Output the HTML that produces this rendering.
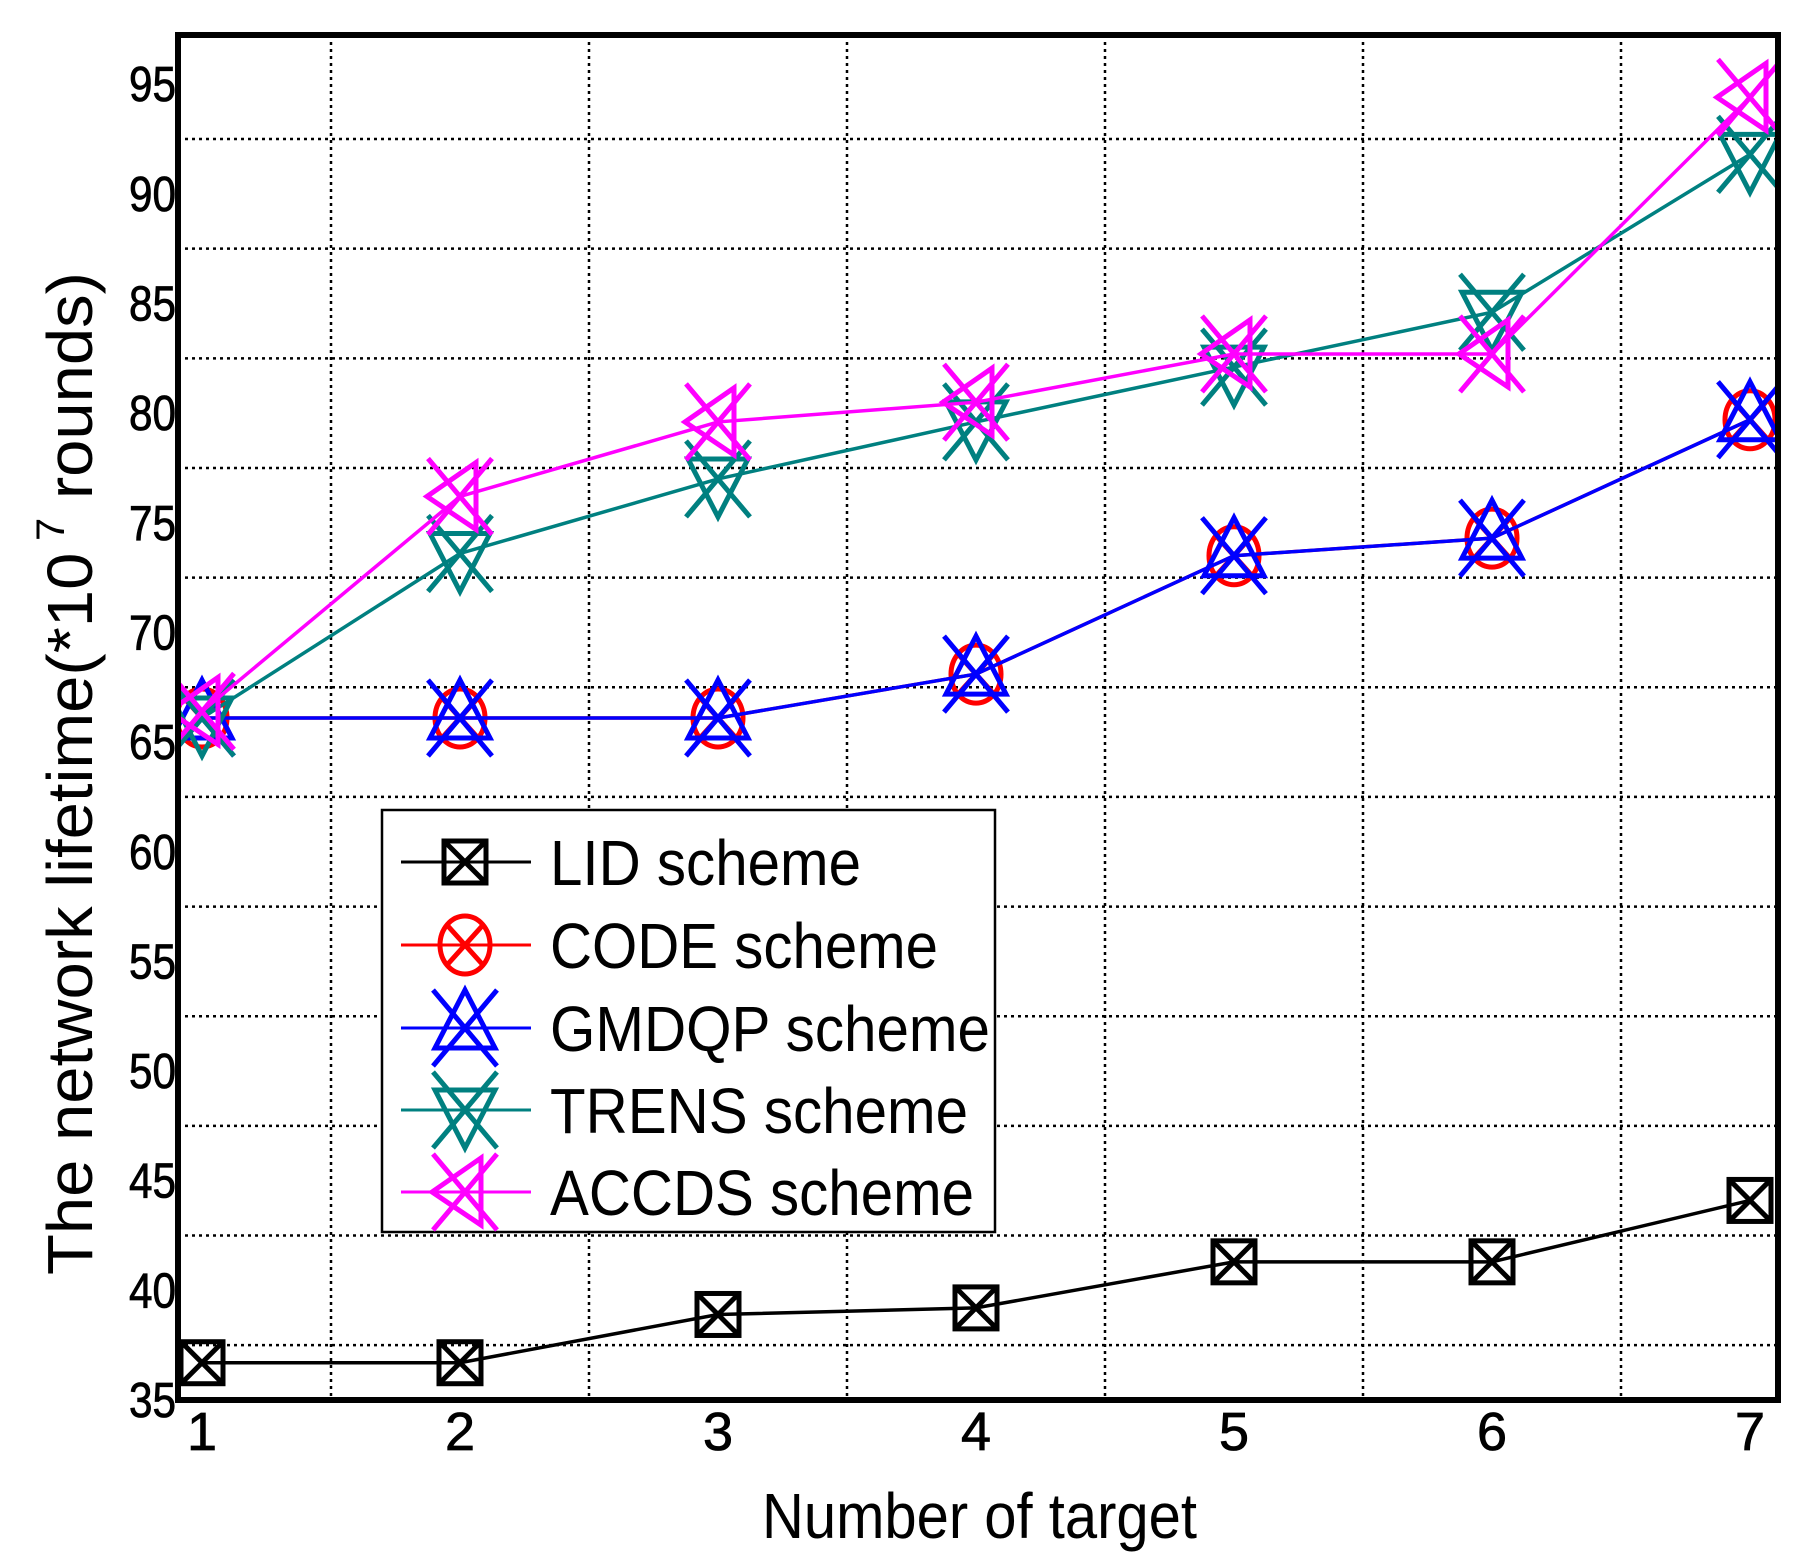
<!DOCTYPE html>
<html><head><meta charset="utf-8"><style>html,body{margin:0;padding:0;background:#fff}svg{display:block}</style></head>
<body>
<svg id="chart" width="1811" height="1566" viewBox="0 0 1811 1566" xmlns="http://www.w3.org/2000/svg" font-family="'Liberation Sans', sans-serif">
<defs><clipPath id="plotclip"><rect x="178" y="32" width="1600" height="1368"/></clipPath></defs>
<g id="grid"></g>
<g id="series" clip-path="url(#plotclip)"></g>
<rect x="178" y="35" width="1600" height="1365" fill="none" stroke="#000" stroke-width="6"/>
<g id="ticks"></g>
<text x="762" y="1538" font-size="64" textLength="435" lengthAdjust="spacingAndGlyphs">Number of target</text>
<text transform="translate(92,1275) rotate(-90)" font-size="64" textLength="1003" lengthAdjust="spacingAndGlyphs">The network lifetime(*10<tspan font-size="40" dy="-28"> 7</tspan><tspan dy="28"> rounds)</tspan></text>
<g id="legend"></g>
</svg>
<script>
const xValues = [1,2,3,4,5,6,7];
const lidValues = [36.7,36.7,38.9,39.2,41.3,41.3,44.1];
const codeValues = [66.1,66.1,66.1,68.1,73.5,74.3,79.7];
const gmdqpValues = [66.1,66.1,66.1,68.1,73.5,74.3,79.7];
const trensValues = [66.1,73.6,77.0,79.6,82.1,84.6,91.8];
const accdsValues = [66.4,76.2,79.6,80.5,82.7,82.7,94.4];
const yTicks = [35,40,45,50,55,60,65,70,75,80,85,90,95];
const xTicks = [1,2,3,4,5,6,7];
const yGrid = [37.5,42.5,47.5,52.5,57.5,62.5,67.5,72.5,77.5,82.5,87.5,92.5];
const xGrid = [1.5,2.5,3.5,4.5,5.5,6.5];
const seriesNames = ['LID scheme','CODE scheme','GMDQP scheme','TRENS scheme','ACCDS scheme'];

const NS='http://www.w3.org/2000/svg';
const X=v=>202+(v-1)*258;
const Y=v=>1400-(v-35)*21.93;
function mk(tag,attrs,parent){const e=document.createElementNS(NS,tag);for(const k in attrs)e.setAttribute(k,attrs[k]);parent.appendChild(e);return e;}

const grid=document.getElementById('grid');
yGrid.forEach(v=>{const l=mk('line',{x1:178,x2:1778,y1:Y(v),y2:Y(v),stroke:'#000','stroke-width':2.5,'stroke-dasharray':'3,4'},grid);

});
xGrid.forEach(v=>{const l=mk('line',{x1:X(v),x2:X(v),y1:35,y2:1400,stroke:'#000','stroke-width':2.5,'stroke-dasharray':'3,4'},grid);

});

const ticks=document.getElementById('ticks');
yTicks.forEach(v=>{const t=mk('text',{x:176,y:Y(v)+17,'font-size':49,'text-anchor':'end',textLength:47,lengthAdjust:'spacingAndGlyphs',stroke:'#000','stroke-width':0.8},ticks);t.textContent=v;

});
xTicks.forEach(v=>{const t=mk('text',{x:X(v),y:1450,'font-size':54,'text-anchor':'middle',stroke:'#000','stroke-width':0.8},ticks);t.textContent=v;

});

function marker(type,cx,cy,color,g){
  const sw=5;const a={fill:'none',stroke:color,'stroke-width':sw};
  if(type==='square'){mk('rect',Object.assign({x:cx-21,y:cy-21,width:42,height:42},a),g);
    mk('path',Object.assign({d:`M${cx-21},${cy-21}L${cx+21},${cy+21}M${cx+21},${cy-21}L${cx-21},${cy+21}`},a),g);return;}
  if(type==='circle'){mk('ellipse',Object.assign({cx:cx,cy:cy,rx:25,ry:29},a),g);
    mk('path',Object.assign({d:`M${cx-18},${cy-20}L${cx+18},${cy+20}M${cx+18},${cy-20}L${cx-18},${cy+20}`},a),g);return;}
  const xp=`M${cx-32},${cy-38}L${cx+32},${cy+38}M${cx+32},${cy-38}L${cx-32},${cy+38}`;
  let tri='';
  if(type==='up')tri=`M${cx},${cy-38}L${cx+30},${cy+20}L${cx-30},${cy+20}Z`;
  if(type==='down')tri=`M${cx},${cy+38}L${cx+30},${cy-20}L${cx-30},${cy-20}Z`;
  if(type==='left')tri=`M${cx-33},${cy}L${cx+16},${cy-34}L${cx+16},${cy+33}Z`;
  mk('path',Object.assign({d:tri},a),g);mk('path',Object.assign({d:xp},a),g);
}
const series=[
 {vals:lidValues,color:'#000',m:'square',name:'lid'},
 {vals:codeValues,color:'#ff0000',m:'circle',name:'code'},
 {vals:gmdqpValues,color:'#0000ff',m:'up',name:'gmdqp'},
 {vals:trensValues,color:'#008080',m:'down',name:'trens'},
 {vals:accdsValues,color:'#ff00ff',m:'left',name:'accds'}];
const sg=document.getElementById('series');
series.forEach(s=>{
  const g=mk('g',{},sg);
  
  
  const p=mk('polyline',{points:xValues.map((x,i)=>X(x)+','+Y(s.vals[i])).join(' '),fill:'none',stroke:s.color,'stroke-width':3.5},g);
  
  
  xValues.forEach((x,i)=>marker(s.m,X(x),Y(s.vals[i]),s.color,g));
});

const lg=document.getElementById('legend');
const lb=mk('rect',{x:382,y:810,width:613,height:422,fill:'#fff',stroke:'#000','stroke-width':2.5},lg);


const ly=[862,945,1028,1110,1192];
const lens=[311,388,440,418,424];
series.forEach((s,i)=>{
  const g=mk('g',{},lg);
  
  
  mk('line',{x1:401,x2:531,y1:ly[i],y2:ly[i],stroke:s.color,'stroke-width':3},g);
  marker(s.m,465,ly[i],s.color,g);
  const t=mk('text',{x:550,y:ly[i]+23,'font-size':64,textLength:lens[i],lengthAdjust:'spacingAndGlyphs'},g);
  t.textContent=seriesNames[i];
});
</script>
</body></html>
